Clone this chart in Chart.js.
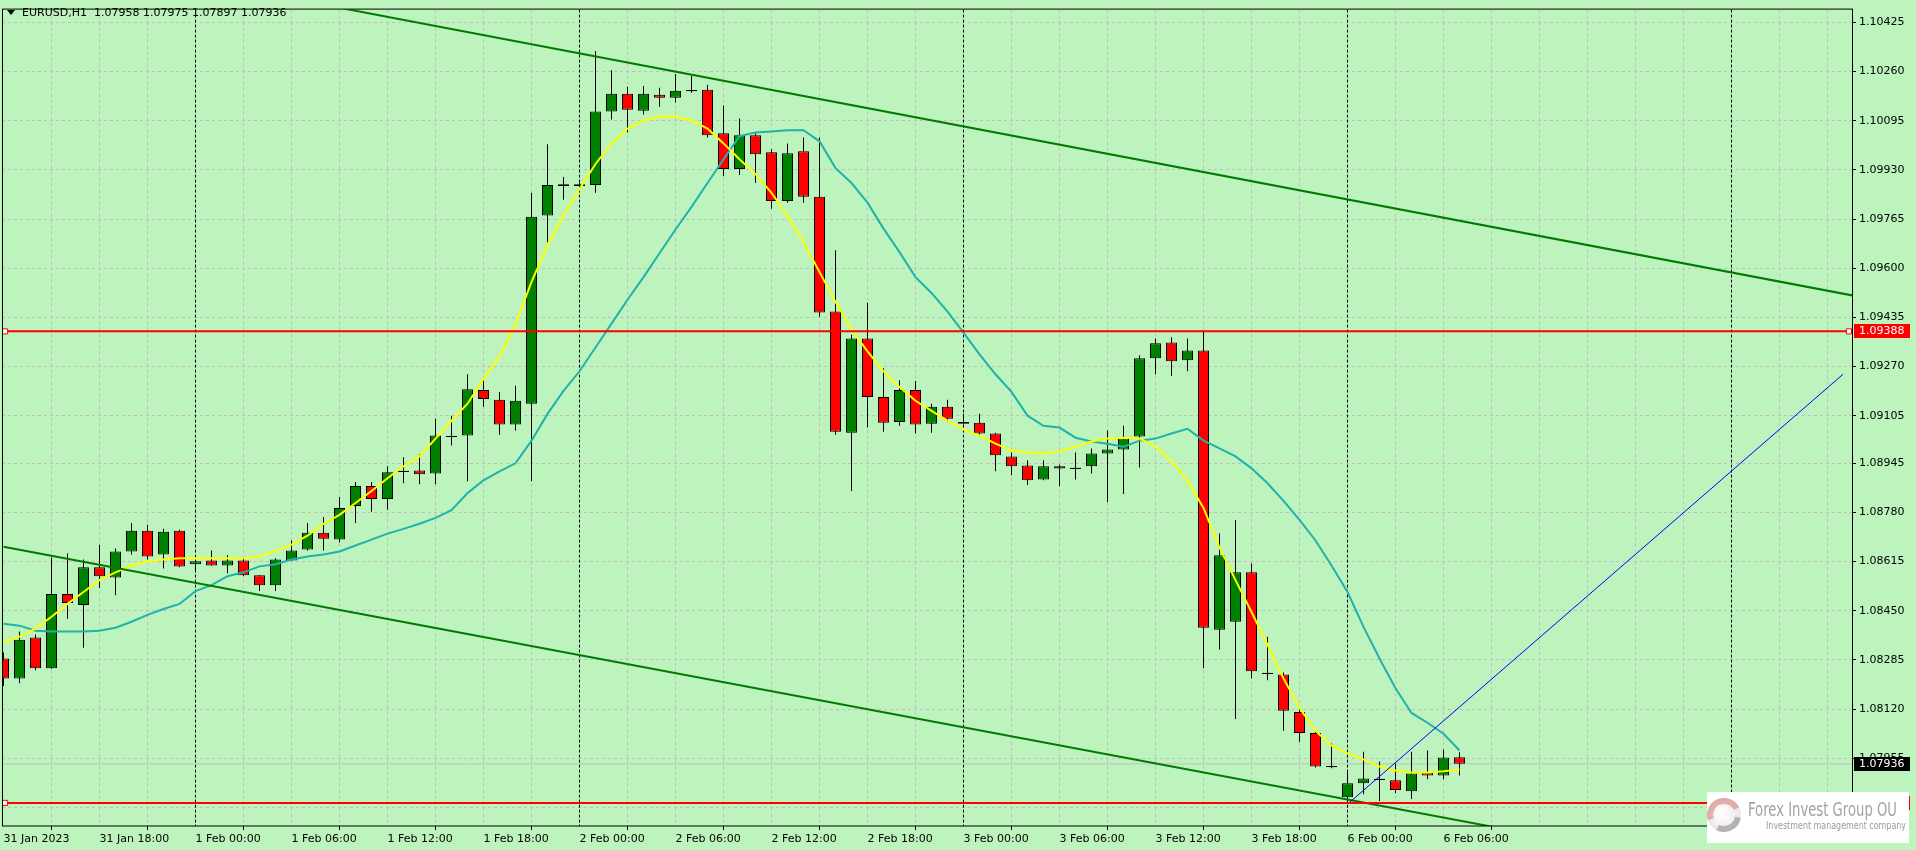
<!DOCTYPE html>
<html>
<head>
<meta charset="utf-8">
<script src="https://cdn.jsdelivr.net/npm/chart.js@4.4.1/dist/chart.umd.min.js"></script>
<style>
  html, body { margin: 0; padding: 0; background: #bdf4bd; overflow: hidden; }
  canvas { display: block; }
</style>
</head>
<body>
<canvas id="chart" width="1916" height="850"></canvas>
<script>
// EURUSD H1, bars from 31 Jan 12:00 to 6 Feb 07:00 (index = bar number)
const opens = [
  1.08290, 1.08223, 1.08360, 1.08257, 1.08506, 1.08469, 1.08596, 1.08562, 1.08649, 1.08719,
  1.08639, 1.08719, 1.08606, 1.08619, 1.08602, 1.08619, 1.08569, 1.08536, 1.08619, 1.08656,
  1.08712, 1.08689, 1.08802, 1.08869, 1.08825, 1.08918, 1.08921, 1.08911, 1.09035, 1.09038,
  1.09191, 1.09158, 1.09075, 1.09145, 1.09777, 1.09876, 1.09882, 1.09879, 1.10126, 1.10186,
  1.10129, 1.10182, 1.10172, 1.10196, 1.10199, 1.10053, 1.09933, 1.10046, 1.09989, 1.09826,
  1.09993, 1.09840, 1.09455, 1.09048, 1.09364, 1.09168, 1.09084, 1.09191, 1.09078, 1.09135,
  1.09084, 1.09081, 1.09045, 1.08968, 1.08938, 1.08891, 1.08935, 1.08928, 1.08935, 1.08978,
  1.08991, 1.09035, 1.09298, 1.09351, 1.09291, 1.09324, 1.08386, 1.08413, 1.08579, 1.08240,
  1.08236, 1.08110, 1.08040, 1.07927, 1.07824, 1.07871, 1.07884, 1.07881, 1.07844, 1.07907,
  1.07897, 1.07958
];
const highs = [
  1.08310, 1.08380, 1.08370, 1.08629, 1.08642, 1.08622, 1.08672, 1.08659, 1.08745, 1.08739,
  1.08725, 1.08722, 1.08616, 1.08652, 1.08636, 1.08626, 1.08569, 1.08626, 1.08686, 1.08745,
  1.08765, 1.08832, 1.08882, 1.08882, 1.08935, 1.08965, 1.08975, 1.09095, 1.09105, 1.09244,
  1.09228, 1.09184, 1.09205, 1.09853, 1.10016, 1.09906, 1.09886, 1.10329, 1.10265, 1.10209,
  1.10212, 1.10206, 1.10252, 1.10245, 1.10216, 1.10146, 1.10103, 1.10053, 1.09999, 1.10019,
  1.10039, 1.10039, 1.09660, 1.09377, 1.09484, 1.09264, 1.09224, 1.09221, 1.09145, 1.09158,
  1.09111, 1.09111, 1.09048, 1.08981, 1.08955, 1.08955, 1.08941, 1.08981, 1.08995, 1.09055,
  1.09071, 1.09308, 1.09364, 1.09368, 1.09364, 1.09390, 1.08709, 1.08755, 1.08609, 1.08363,
  1.08243, 1.08124, 1.08044, 1.08004, 1.07914, 1.07977, 1.07944, 1.07937, 1.07977, 1.07981,
  1.07984, 1.07975
];
const lows = [
  1.08197, 1.08207, 1.08250, 1.08255, 1.08423, 1.08326, 1.08526, 1.08502, 1.08639, 1.08622,
  1.08592, 1.08596, 1.08586, 1.08602, 1.08576, 1.08566, 1.08516, 1.08516, 1.08619, 1.08652,
  1.08652, 1.08679, 1.08745, 1.08782, 1.08789, 1.08878, 1.08875, 1.08875, 1.09005, 1.08885,
  1.09135, 1.09041, 1.09055, 1.08885, 1.09687, 1.09830, 1.09872, 1.09853, 1.10099, 1.10056,
  1.10116, 1.10142, 1.10156, 1.10189, 1.10039, 1.09909, 1.09913, 1.09886, 1.09800, 1.09820,
  1.09820, 1.09437, 1.09041, 1.08852, 1.09065, 1.09051, 1.09071, 1.09045, 1.09048, 1.09084,
  1.09075, 1.09041, 1.08918, 1.08905, 1.08872, 1.08888, 1.08868, 1.08891, 1.08911, 1.08815,
  1.08842, 1.08931, 1.09244, 1.09238, 1.09254, 1.08257, 1.08320, 1.08087, 1.08223, 1.08217,
  1.08047, 1.08010, 1.07924, 1.07921, 1.07805, 1.07834, 1.07811, 1.07837, 1.07818, 1.07884,
  1.07884, 1.07897
];
const closes = [
  1.08223, 1.08353, 1.08257, 1.08506, 1.08476, 1.08596, 1.08566, 1.08649, 1.08719, 1.08632,
  1.08715, 1.08599, 1.08616, 1.08602, 1.08619, 1.08569, 1.08536, 1.08622, 1.08652, 1.08712,
  1.08692, 1.08795, 1.08869, 1.08825, 1.08915, 1.08918, 1.08908, 1.09038, 1.09035, 1.09194,
  1.09161, 1.09075, 1.09155, 1.09773, 1.09879, 1.09882, 1.09876, 1.10126, 1.10186, 1.10132,
  1.10186, 1.10172, 1.10196, 1.10196, 1.10046, 1.09933, 1.10046, 1.09983, 1.09826, 1.09986,
  1.09840, 1.09451, 1.09051, 1.09364, 1.09168, 1.09081, 1.09191, 1.09075, 1.09135, 1.09095,
  1.09078, 1.09045, 1.08972, 1.08935, 1.08888, 1.08935, 1.08928, 1.08928, 1.08978, 1.08991,
  1.09028, 1.09298, 1.09348, 1.09288, 1.09324, 1.08393, 1.08636, 1.08579, 1.08247, 1.08240,
  1.08114, 1.08040, 1.07927, 1.07927, 1.07871, 1.07887, 1.07884, 1.07848, 1.07904, 1.07897,
  1.07957, 1.07936
];

// moving averages
const fastMa = [
  1.08346, 1.08363, 1.08390, 1.08430, 1.08473, 1.08513, 1.08553, 1.08579, 1.08602, 1.08616,
  1.08622, 1.08626, 1.08626, 1.08626, 1.08626, 1.08626, 1.08632, 1.08652, 1.08672, 1.08702,
  1.08742, 1.08772, 1.08812, 1.08852, 1.08895, 1.08935, 1.08968, 1.09028, 1.09088, 1.09145,
  1.09228, 1.09304, 1.09411, 1.09554, 1.09677, 1.09777, 1.09866, 1.09950, 1.10019, 1.10069,
  1.10096, 1.10109, 1.10109, 1.10096, 1.10069, 1.10019, 1.09966, 1.09916, 1.09853, 1.09777,
  1.09687, 1.09587, 1.09487, 1.09394, 1.09321, 1.09254, 1.09201, 1.09155, 1.09121, 1.09088,
  1.09058, 1.09038, 1.09011, 1.08988, 1.08982, 1.08978, 1.08985, 1.09001, 1.09018, 1.09028,
  1.09031, 1.09028, 1.09001, 1.08952, 1.08885, 1.08795, 1.08662, 1.08553, 1.08446, 1.08336,
  1.08223, 1.08124, 1.08047, 1.07997, 1.07971, 1.07951, 1.07927, 1.07914, 1.07907, 1.07907,
  1.07911, 1.07917
];
const slowMa = [
  1.08406, 1.08400, 1.08383, 1.08380, 1.08380, 1.08380, 1.08383, 1.08393, 1.08413, 1.08436,
  1.08456, 1.08473, 1.08516, 1.08536, 1.08566, 1.08579, 1.08599, 1.08606, 1.08622, 1.08632,
  1.08639, 1.08649, 1.08669, 1.08689, 1.08709, 1.08725, 1.08742, 1.08762, 1.08788, 1.08845,
  1.08888, 1.08918, 1.08945, 1.09021, 1.09111, 1.09188, 1.09254, 1.09334, 1.09414, 1.09494,
  1.09570, 1.09650, 1.09730, 1.09806, 1.09886, 1.09966, 1.10043, 1.10056, 1.10059, 1.10063,
  1.10063, 1.10026, 1.09936, 1.09886, 1.09820, 1.09733, 1.09654, 1.09570, 1.09517, 1.09454,
  1.09384, 1.09311, 1.09244, 1.09185, 1.09105, 1.09071, 1.09065, 1.09031, 1.09018, 1.09011,
  1.09001, 1.09021, 1.09028, 1.09045, 1.09061, 1.09021, 1.08995, 1.08968, 1.08928, 1.08878,
  1.08819, 1.08755, 1.08686, 1.08602, 1.08513, 1.08396, 1.08290, 1.08190, 1.08107, 1.08074,
  1.08037, 1.07981
];

const tickBars = [0, 6, 12, 18, 24, 30, 36, 42, 48, 54, 60, 66, 72, 78, 84, 90];
const tickLabels = [
  "31 Jan 2023", "31 Jan 18:00", "1 Feb 00:00", "1 Feb 06:00", "1 Feb 12:00", "1 Feb 18:00",
  "2 Feb 00:00", "2 Feb 06:00", "2 Feb 12:00", "2 Feb 18:00", "3 Feb 00:00", "3 Feb 06:00",
  "3 Feb 12:00", "3 Feb 18:00", "6 Feb 00:00", "6 Feb 06:00"
];
const priceTicks = [
  1.10425, 1.10260, 1.10095, 1.09930, 1.09765, 1.09600, 1.09435, 1.09270, 1.09105,
  1.08945, 1.08780, 1.08615, 1.08450, 1.08285, 1.08120, 1.07955, 1.07790
];
const daySeparators = [12, 36, 60, 84, 108];

// objects drawn on the chart
const resistanceLevel = 1.09388;
const supportLevel = 1.07805;
const upperChannel = [[0, 1.10689], [116, 1.09504]];
const lowerChannel = [[0, 1.08665], [116, 1.07493]];
const blueTrend = [[84.05, 1.07803], [114.97, 1.09244]];

const X_MIN = -0.09375, X_MAX = 115.53;
const Y_MIN = 1.077274, Y_MAX = 1.104682;
const FONT = '"DejaVu Sans", Tahoma, sans-serif';
const BG = '#bdf4bd';

const last = closes.length - 1;
const lastPrice = closes[last];
const DOJI = 0.00003;

const isDoji = i => Math.abs(opens[i] - closes[i]) < DOJI;
const bodyData = opens.map((o, i) => ({
  x: i,
  y: isDoji(i) ? [o - 0.00002, o + 0.00002] : [o, closes[i]]
}));
const bodyColors = opens.map((o, i) =>
  isDoji(i) ? '#000000' : (closes[i] > o ? '#008000' : '#ff0000'));
const wickData = highs.map((h, i) => ({ x: i, y: [lows[i], h] }));

const toPoints = pts => pts.map(p => ({ x: p[0], y: p[1] }));
const levelLine = (v) => [
  { x: X_MIN, y: v }, { x: 0.1, y: v }, { x: 115.34, y: v }, { x: X_MAX, y: v }
];

const gridPlugin = {
  id: 'mtGrid',
  beforeDraw(chart) {
    const { ctx } = chart;
    ctx.save();
    ctx.fillStyle = BG;
    ctx.fillRect(0, 0, chart.width, chart.height);
    ctx.restore();
  },
  beforeDatasetsDraw(chart) {
    const { ctx, chartArea: a, scales: { x, y } } = chart;
    ctx.save();
    ctx.beginPath();
    ctx.rect(a.left, a.top, a.right - a.left, a.bottom - a.top);
    ctx.clip();
    ctx.lineWidth = 1;
    ctx.strokeStyle = '#c6b9c6';
    ctx.setLineDash([3, 3]);
    priceTicks.forEach(v => {
      const py = Math.floor(y.getPixelForValue(v)) + 0.5;
      ctx.beginPath(); ctx.moveTo(a.left, py); ctx.lineTo(a.right, py); ctx.stroke();
    });
    for (let b = 3; b < X_MAX; b += 3) {
      if (daySeparators.includes(b)) continue;
      const px = Math.floor(x.getPixelForValue(b)) + 0.5;
      ctx.beginPath(); ctx.moveTo(px, a.top); ctx.lineTo(px, a.bottom); ctx.stroke();
    }
    ctx.strokeStyle = '#000000';
    ctx.setLineDash([3, 2]);
    daySeparators.forEach(b => {
      const px = Math.floor(x.getPixelForValue(b)) + 0.5;
      ctx.beginPath(); ctx.moveTo(px, a.top); ctx.lineTo(px, a.bottom); ctx.stroke();
    });
    ctx.restore();
  },
  afterDraw(chart) {
    const { ctx, chartArea: a, scales: { y } } = chart;
    ctx.save();
    // frame
    ctx.strokeStyle = '#000000';
    ctx.lineWidth = 1;
    ctx.strokeRect(a.left + 0.5, a.top - 0.5, a.right - a.left, a.bottom - a.top + 0.5);

    // header
    ctx.fillStyle = '#000000';
    ctx.beginPath(); ctx.moveTo(7, 10); ctx.lineTo(15, 10); ctx.lineTo(11, 15); ctx.closePath(); ctx.fill();
    ctx.font = '11px ' + FONT;
    ctx.textBaseline = 'middle';
    ctx.textAlign = 'left';
    ctx.fillText('EURUSD,H1', 22, 13);
    ctx.fillText([opens[last], highs[last], lows[last], closes[last]].map(v => v.toFixed(5)).join(' '), 94, 13);

    // price tags
    const tag = (v, bg) => {
      const py = Math.round(y.getPixelForValue(v));
      ctx.fillStyle = bg;
      ctx.fillRect(a.right + 2, py - 7, 56, 14);
      ctx.fillStyle = '#ffffff';
      ctx.fillText(v.toFixed(5), a.right + 7, py + 0.5);
    };
    tag(resistanceLevel, '#ff0000');
    tag(supportLevel, '#ff0000');
    tag(lastPrice, '#000000');

    // logo
    const lx = 1707, ly = 792, lw = 202, lh = 51;
    ctx.fillStyle = '#ffffff';
    ctx.fillRect(lx, ly, lw, lh);
    const cx = lx + 17, cy = ly + 23, r = 17;
    const g = ctx.createRadialGradient(cx - 3, cy - 3, 2, cx, cy, r);
    g.addColorStop(0, '#ffffff');
    g.addColorStop(1, '#ece6e6');
    ctx.fillStyle = g;
    ctx.beginPath(); ctx.arc(cx, cy, r, 0, Math.PI * 2); ctx.fill();
    ctx.lineWidth = 6;
    ctx.strokeStyle = 'rgba(214,120,120,0.55)';
    ctx.beginPath(); ctx.arc(cx, cy, r - 3, Math.PI * 0.9, Math.PI * 1.85); ctx.stroke();
    ctx.strokeStyle = 'rgba(140,140,140,0.6)';
    ctx.beginPath(); ctx.arc(cx, cy, r - 3, Math.PI * 0.05, Math.PI * 0.65); ctx.stroke();

    const fitText = (text, x0, yc, width, font, color) => {
      ctx.font = font;
      ctx.fillStyle = color;
      const w = ctx.measureText(text).width;
      ctx.save();
      ctx.translate(x0, yc);
      ctx.scale(width / w, 1);
      ctx.fillText(text, 0, 0);
      ctx.restore();
    };
    fitText('Forex Invest Group OU', 1748, 811, 149, '20px ' + FONT, '#a3a3a3');
    fitText('Investment management company', 1766, 826, 140, '10px ' + FONT, '#9a9a9a');
    ctx.restore();
  }
};

new Chart(document.getElementById('chart'), {
  type: 'bar',
  data: {
    datasets: [
      {
        type: 'line', order: 20,
        data: [{ x: X_MIN, y: lastPrice }, { x: X_MAX, y: lastPrice }],
        borderColor: '#c0c0c0', borderWidth: 1, pointRadius: 0
      },
      {
        order: 15, data: wickData, backgroundColor: '#000000',
        barThickness: 1, grouped: false, borderWidth: 0, inflateAmount: 0
      },
      {
        order: 14, data: bodyData, backgroundColor: bodyColors, borderColor: '#000000',
        borderWidth: 1, borderSkipped: false, barThickness: 11, grouped: false, inflateAmount: 0
      },
      {
        type: 'line', order: 6,
        data: slowMa.map((v, i) => ({ x: i, y: v })),
        borderColor: '#20b2aa', borderWidth: 2, pointRadius: 0, tension: 0
      },
      {
        type: 'line', order: 5,
        data: fastMa.map((v, i) => ({ x: i, y: v })),
        borderColor: '#ffff00', borderWidth: 2, pointRadius: 0, tension: 0
      },
      {
        type: 'line', order: 4, data: toPoints(upperChannel),
        borderColor: '#007a00', borderWidth: 2, pointRadius: 0
      },
      {
        type: 'line', order: 4, data: toPoints(lowerChannel),
        borderColor: '#007a00', borderWidth: 2, pointRadius: 0
      },
      {
        type: 'line', order: 3, data: toPoints(blueTrend),
        borderColor: '#0000ff', borderWidth: 1, pointRadius: 0
      },
      {
        type: 'line', order: 2, data: levelLine(resistanceLevel),
        borderColor: '#ff0000', borderWidth: 2,
        pointRadius: [0, 3.6, 3.6, 0], pointStyle: 'rect',
        pointBackgroundColor: '#ffffff', pointBorderColor: '#ff0000', pointBorderWidth: 1
      },
      {
        type: 'line', order: 2, data: levelLine(supportLevel),
        borderColor: '#ff0000', borderWidth: 2,
        pointRadius: [0, 3.6, 3.6, 0], pointStyle: 'rect',
        pointBackgroundColor: '#ffffff', pointBorderColor: '#ff0000', pointBorderWidth: 1
      }
    ]
  },
  options: {
    responsive: false,
    devicePixelRatio: 1,
    animation: false,
    events: [],
    layout: { padding: { left: 2, top: 2, right: 0, bottom: 0 } },
    plugins: { legend: { display: false }, tooltip: { enabled: false } },
    scales: {
      x: {
        type: 'linear',
        min: X_MIN,
        max: X_MAX,
        offset: false,
        border: { display: false },
        grid: { drawOnChartArea: false, drawTicks: true, tickLength: 4, color: '#000000' },
        afterBuildTicks: s => { s.ticks = tickBars.map(v => ({ value: v })); },
        afterFit: s => { s.height = 24; },
        ticks: {
          autoSkip: false, maxRotation: 0, minRotation: 0, align: 'start', padding: 3,
          color: '#000000', font: { family: FONT, size: 11 },
          callback: v => tickLabels[tickBars.indexOf(v)]
        }
      },
      y: {
        type: 'linear',
        position: 'right',
        min: Y_MIN,
        max: Y_MAX,
        beginAtZero: false,
        border: { display: false },
        grid: { drawOnChartArea: false, drawTicks: true, tickLength: 4, color: '#000000' },
        afterBuildTicks: s => { s.ticks = priceTicks.map(v => ({ value: v })); },
        afterFit: s => { s.width = 64; },
        ticks: {
          padding: 3, color: '#000000', font: { family: FONT, size: 11 },
          callback: v => v.toFixed(5)
        }
      }
    }
  },
  plugins: [gridPlugin]
});
</script>
</body>
</html>
